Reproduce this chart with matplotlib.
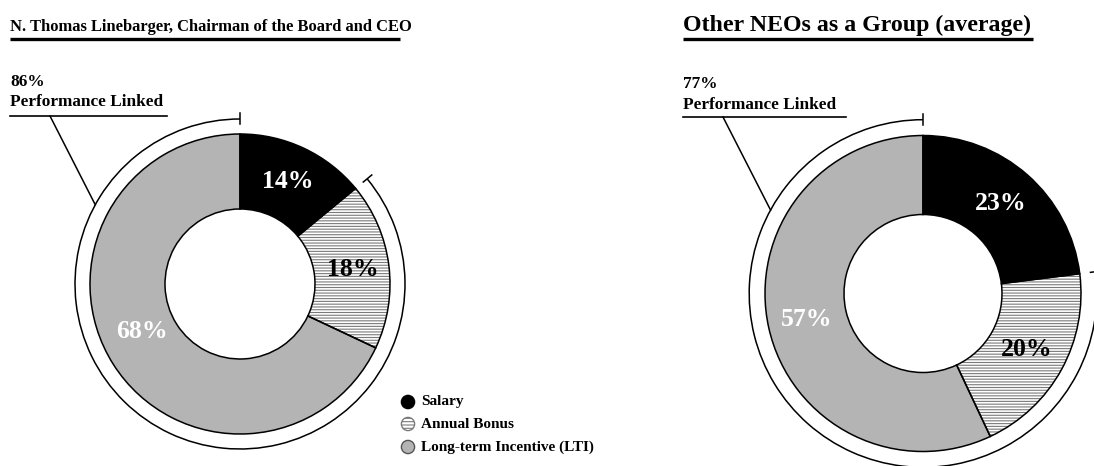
import math
import matplotlib
matplotlib.use("Agg")
import matplotlib.pyplot as plt
from matplotlib.patches import Arc, Circle

# ---------------- data ----------------
titles = ["N. Thomas Linebarger, Chairman of the Board and CEO",
          "Other NEOs as a Group (average)"]
components = ["Salary", "Annual Bonus", "Long-term Incentive (LTI)"]
ceo_values = [14, 18, 68]
neo_values = [23, 20, 57]
perf_linked = [86, 77]

# ---------------- style ----------------
W, H = 1094, 466
FONT = "Liberation Serif"
GRAY = "#b4b4b4"
HATCH_COL = "#7a7a7a"
plt.rcParams["hatch.linewidth"] = 0.8
plt.rcParams["hatch.color"] = HATCH_COL

fig = plt.figure(figsize=(W / 100, H / 100), dpi=100)
ax = fig.add_axes([0, 0, 1, 1])


def Y(p):
    return H - p


panels = [
    dict(values=ceo_values, perf=perf_linked[0], title=titles[0], title_fs=11.9,
         tx=10, title_end=400, cx=240, cy=284, r=150, ring=1.1,
         lead_start=(50, 116), ul_end=167, pct_y=82, pl_y=102, ul_y=116,
         label_pos=[(288, 182), (353, 270), (142, 332)]),
    dict(values=neo_values, perf=perf_linked[1], title=titles[1], title_fs=17.2,
         tx=683, title_end=1033, cx=923, cy=293.5, r=158, ring=1.1,
         lead_start=(723, 117), ul_end=846, pct_y=84, pl_y=105, ul_y=117,
         label_pos=[(1001, 203), (1027, 350), (807, 320)]),
]

label_colors = ["white", "black", "white"]

for p in panels:
    vals = p["values"]
    center = (p["cx"], Y(p["cy"]))
    wedges, _ = ax.pie(vals, colors=["black", "white", GRAY], startangle=90,
                       counterclock=False, radius=p["r"], center=center,
                       wedgeprops=dict(width=p["r"] / 2, linewidth=0))
    wedges[1].set_hatch("------")
    wedges[1].set_edgecolor(HATCH_COL)
    wedges[1].set_linewidth(0)
    # outlines
    ax.pie(vals, colors=["none"] * 3, startangle=90, counterclock=False,
           radius=p["r"], center=center,
           wedgeprops=dict(width=p["r"] / 2, linewidth=1.1, edgecolor="black",
                           facecolor="none"))

    # percent labels
    for v, (lx, ly), c in zip(vals, p["label_pos"], label_colors):
        ax.text(lx, Y(ly), f"{v}%", color=c, fontsize=18.5, fontweight="bold",
                family=FONT, ha="center", va="center")

    # performance-linked bracket arc
    rr = p["r"] * p["ring"]
    t1 = 90
    t2 = 90 + 360 * p["perf"] / 100
    ax.add_patch(Arc(center, 2 * rr, 2 * rr, theta1=t1, theta2=t2,
                     color="black", lw=1.1))
    for t in (t1, t2):
        a = math.radians(t)
        ax.plot([center[0] + (rr - 5) * math.cos(a), center[0] + (rr + 6) * math.cos(a)],
                [center[1] + (rr - 5) * math.sin(a), center[1] + (rr + 6) * math.sin(a)],
                color="black", lw=1.1)
    # leader line
    a = math.radians(151.3)
    ax.plot([p["lead_start"][0], center[0] + rr * math.cos(a)],
            [Y(p["lead_start"][1]), center[1] + rr * math.sin(a)],
            color="black", lw=1.1)
    ax.plot([p["tx"], p["ul_end"]], [Y(p["ul_y"]), Y(p["ul_y"])], color="black", lw=1.2)
    ax.text(p["tx"], Y(p["pct_y"]), f"{p['perf']}%", fontsize=12.4, fontweight="bold",
            family=FONT, ha="left", va="center")
    ax.text(p["tx"], Y(p["pl_y"]), "Performance Linked", fontsize=12.4,
            fontweight="bold", family=FONT, ha="left", va="center")

    # title
    ax.text(p["tx"], Y(31), p["title"], fontsize=p["title_fs"], fontweight="bold",
            family=FONT, ha="left", va="baseline")
    ax.plot([p["tx"], p["title_end"]], [Y(39), Y(39)], color="black", lw=2.4,
            solid_capstyle="butt")

# legend
leg_x = 408
leg_ys = [402, 424, 447]
leg_face = ["black", "white", GRAY]
leg_edge = ["black", HATCH_COL, "#555555"]
for name, ly, fc, ec in zip(components, leg_ys, leg_face, leg_edge):
    c = Circle((leg_x, Y(ly)), 6.6, facecolor=fc, edgecolor=ec, lw=1.0)
    if name == components[1]:
        c.set_hatch("-----")
    ax.add_patch(c)
    ax.text(leg_x + 13, Y(ly), name, fontsize=11, fontweight="bold",
            family=FONT, ha="left", va="center")

ax.set_xlim(0, W)
ax.set_ylim(0, H)
ax.set_aspect("equal")
ax.axis("off")

fig.savefig("out.png", dpi=100, facecolor="white")
